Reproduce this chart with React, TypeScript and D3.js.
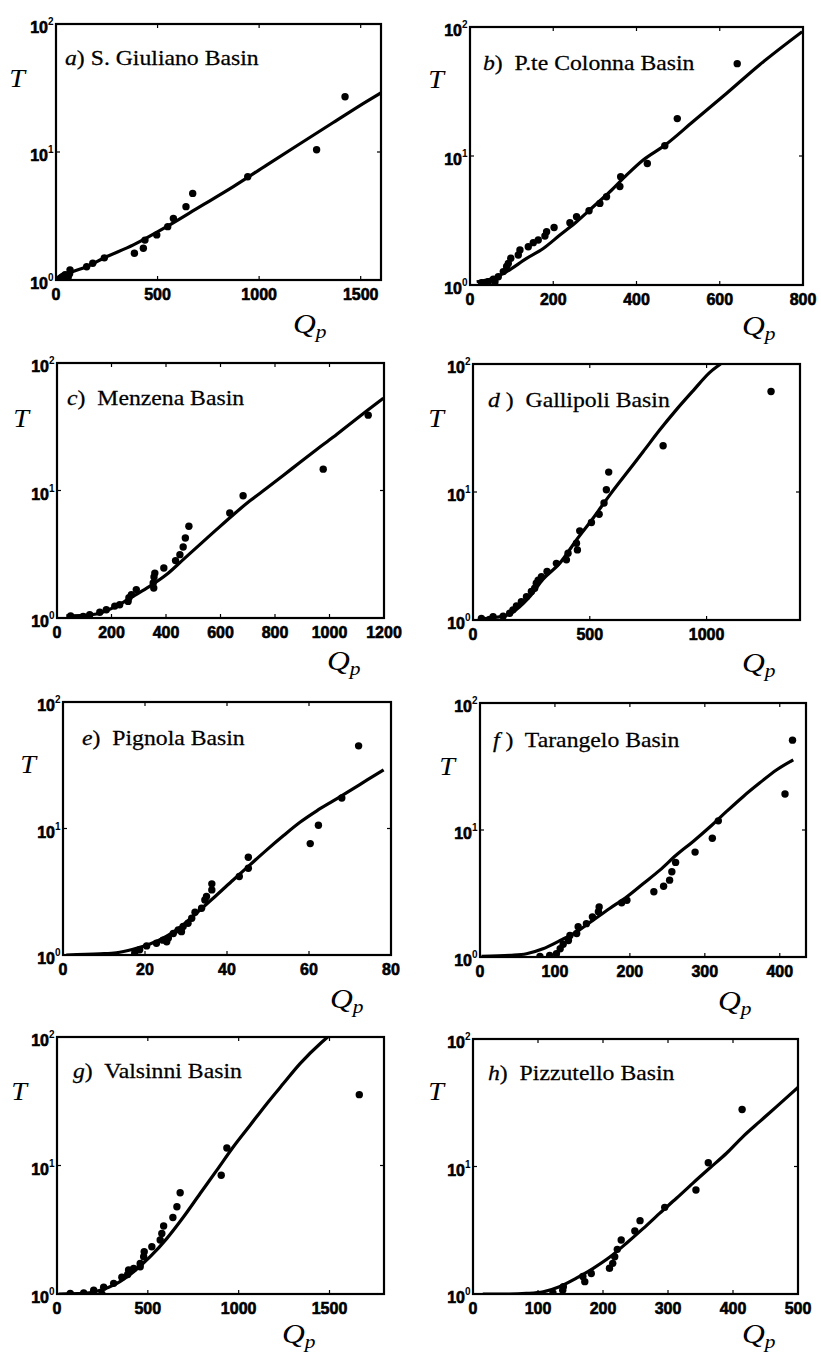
import React from "react";
import * as d3 from "d3";

// ---- data ----
const letters = ["a", "b", "c", "d", "e", "f", "g", "h"];
const basinNames = [
  "S. Giuliano Basin",
  "P.te Colonna Basin",
  "Menzena Basin",
  "Gallipoli Basin",
  "Pignola Basin",
  "Tarangelo Basin",
  "Valsinni Basin",
  "Pizzutello Basin",
];
const xMaxes = [1600, 800, 1200, 1400, 80, 435, 1800, 500];
const xTicks = [
  [0, 500, 1000, 1500],
  [0, 200, 400, 600, 800],
  [0, 200, 400, 600, 800, 1000, 1200],
  [0, 500, 1000],
  [0, 20, 40, 60, 80],
  [0, 100, 200, 300, 400],
  [0, 500, 1000, 1500],
  [0, 100, 200, 300, 400, 500],
];
const yTicks = [1, 10, 100];

// observed points [Qp, T]
const obsA = [
  [1423, 27], [1283, 10.4], [944, 6.4], [673, 4.75], [640, 3.74], [578, 3.03],
  [550, 2.61], [496, 2.25], [438, 2.05], [430, 1.77], [386, 1.62], [238, 1.49],
  [181, 1.35], [151, 1.27], [69, 1.2], [67, 1.12], [45, 1.1], [36, 1.07],
  [60, 1.05], [28, 1.05], [20, 1.03],
];
const obsB = [
  [642, 52], [498, 19.5], [468, 12], [426, 8.75], [362, 6.9], [360, 5.8],
  [328, 4.83], [312, 4.29], [286, 3.76], [256, 3.38], [240, 3.04], [202, 2.79],
  [184, 2.59], [180, 2.4], [164, 2.23], [152, 2.13], [140, 1.98], [120, 1.87],
  [116, 1.71], [98, 1.61], [92, 1.47], [88, 1.39], [80, 1.27], [68, 1.16],
  [56, 1.11], [60, 1.06], [44, 1.06], [28, 1.04], [42, 1.0],
];
const obsC = [
  [1142, 39], [977, 14.7], [683, 9.1], [634, 6.66], [484, 5.24], [471, 4.24],
  [463, 3.6], [451, 3.14], [435, 2.82], [392, 2.47], [359, 2.25], [356, 2.1],
  [353, 1.88], [355, 1.72], [291, 1.67], [273, 1.52], [264, 1.44], [261, 1.35],
  [230, 1.27], [212, 1.24], [181, 1.16], [157, 1.11], [120, 1.06], [96, 1.03],
  [50, 1.04],
];
const obsD = [
  [1276, 61], [814, 23], [581, 14.3], [571, 10.4], [561, 8.2], [540, 6.7],
  [507, 5.77], [457, 4.97], [443, 3.98], [447, 3.53], [407, 3.32], [400, 2.95],
  [357, 2.77], [317, 2.39], [293, 2.18], [279, 2.05], [271, 1.94], [264, 1.77],
  [250, 1.67], [229, 1.52], [207, 1.39], [186, 1.29], [171, 1.2], [157, 1.13],
  [129, 1.07], [86, 1.06], [71, 1.01], [36, 1.03],
];
const obsE = [
  [72.1, 45], [68, 17.4], [62.3, 10.6], [60.3, 7.6], [45.2, 5.93], [45.2, 4.85],
  [43, 4.17], [36.3, 3.65], [36.3, 3.27], [35, 2.9], [34.6, 2.72], [33.8, 2.34],
  [32.2, 2.18], [31.4, 1.95], [30.5, 1.78], [29.3, 1.68], [28.9, 1.53],
  [28.1, 1.58], [26.9, 1.48], [25.7, 1.36], [25.3, 1.27], [24.4, 1.31],
  [22.8, 1.24], [20.4, 1.18], [18.7, 1.1], [17.5, 1.04],
];
const obsF = [
  [417, 51], [407, 19.2], [318, 11.8], [310, 8.6], [287, 6.7], [261, 5.56],
  [256, 4.69], [253, 4.03], [245, 3.61], [232, 3.26], [196, 2.8], [189, 2.67],
  [159, 2.48], [158, 2.27], [150, 2.07], [142, 1.83], [131, 1.73], [129, 1.53],
  [120, 1.48], [118, 1.35], [111, 1.26], [107, 1.16], [102, 1.06], [93, 1.03],
  [80, 1.01],
];
const obsG = [
  [1664, 35.6], [935, 13.7], [904, 8.4], [678, 6.13], [660, 4.77], [638, 3.94],
  [587, 3.38], [577, 2.96], [568, 2.63], [522, 2.33], [480, 2.13], [477, 1.95],
  [458, 1.73], [458, 1.63], [422, 1.58], [394, 1.54], [389, 1.42], [357, 1.35],
  [312, 1.21], [257, 1.13], [247, 1.0], [202, 1.07], [147, 1.02], [73, 1.01],
];
const obsH = [
  [414, 28], [362, 10.7], [343, 6.54], [295, 4.78], [257, 3.76], [249, 3.12],
  [228, 2.65], [222, 2.24], [218, 1.96], [215, 1.74], [210, 1.59], [182, 1.45],
  [169, 1.37], [172, 1.25], [139, 1.14], [138, 1.07], [123, 1.02],
];

// fitted curves [Qp, T]
const fitA = [
  [3, 1.0], [69, 1.14], [151, 1.27], [233, 1.48], [381, 1.88], [545, 2.61],
  [709, 3.74], [873, 5.36], [1037, 7.9], [1201, 11.6], [1365, 17.0],
  [1530, 24.9], [1600, 29],
];
const fitB = [
  [16, 1.06], [56, 1.13], [88, 1.27], [136, 1.61], [176, 1.92], [216, 2.44],
  [256, 3.09], [296, 4.04], [336, 5.28], [376, 7.1], [416, 9.3], [468, 12.1],
  [536, 18.5], [616, 30.5], [696, 51], [798, 92],
];
const fitC = [
  [34, 1.04], [96, 1.05], [157, 1.09], [218, 1.24], [279, 1.48], [340, 1.77],
  [402, 2.19], [463, 2.87], [524, 3.76], [585, 4.93], [647, 6.46], [708, 8.3],
  [769, 10.4], [830, 13.1], [891, 16.6], [953, 21], [1014, 26.3],
  [1075, 33.3], [1136, 42], [1198, 53],
];
const fitD = [
  [29, 1.02], [100, 1.05], [157, 1.11], [200, 1.27], [243, 1.52], [300, 2.08],
  [371, 2.77], [443, 4.22], [514, 6.24], [586, 9.5], [657, 14], [729, 20.7],
  [800, 30.6], [871, 44], [943, 62], [1014, 86], [1060, 100],
];
const fitE = [
  [0.8, 1.0], [9, 1.02], [13, 1.04], [17.1, 1.11], [21.2, 1.22], [25.3, 1.41],
  [29.3, 1.73], [33.4, 2.27], [37.5, 2.98], [41.5, 3.92], [45.6, 5.16],
  [49.7, 6.78], [53.8, 8.8], [57.8, 11.2], [61.9, 13.8], [66, 16.6],
  [70.1, 20], [74.1, 24.1], [78.2, 29.1],
];
const fitF = [
  [2, 1.01], [40, 1.03], [62, 1.06], [84, 1.16], [107, 1.35], [129, 1.58],
  [151, 1.95], [173, 2.41], [196, 2.98], [218, 3.79], [240, 4.83], [262, 6.35],
  [284, 8.09], [307, 10.6], [329, 14], [351, 18.3], [373, 23.4], [396, 29.8],
  [418, 35.7],
];
const fitG = [
  [9, 1.0], [147, 1.01], [238, 1.07], [330, 1.21], [422, 1.49], [513, 1.95],
  [605, 2.71], [697, 3.99], [788, 6.06], [880, 9.2], [971, 14], [1063, 20.6],
  [1155, 30.3], [1246, 43.4], [1338, 62], [1457, 91], [1490, 100],
];
const fitH = [
  [15, 1.0], [56, 1.0], [82, 1.01], [108, 1.04], [133, 1.14], [159, 1.33],
  [185, 1.59], [210, 1.94], [236, 2.5], [262, 3.27], [287, 4.29], [313, 5.63],
  [338, 7.38], [364, 9.7], [390, 12.7], [415, 17.1], [441, 22.5], [467, 29.5],
  [500, 41.8],
];
const observed = [obsA, obsB, obsC, obsD, obsE, obsF, obsG, obsH];
const fitted = [fitA, fitB, fitC, fitD, fitE, fitF, fitG, fitH];

// ---- layout (page pixels) ----
// box: [left, top, right, bottom]; title/T/Q offsets relative to the box
const layout = [
  { box: [56, 24, 381, 280], title: [9, 41], sep: ") ", T: [-39, 63], Q: [-88, 53] },
  { box: [470, 27, 803, 285], title: [13, 43], sep: ")  ", T: [-34, 61], Q: [-61, 50] },
  { box: [57, 363, 384, 618], title: [10, 42], sep: ")  ", T: [-36, 64], Q: [-57, 52] },
  { box: [473, 364, 800, 620], title: [15, 43], sep: " )  ", T: [-37, 63], Q: [-58, 52] },
  { box: [63, 702, 391, 955], title: [19, 43], sep: ")  ", T: [-35, 71], Q: [-61, 53] },
  { box: [480, 703, 806, 957], title: [13, 44], sep: " )  ", T: [-33, 72], Q: [-88, 53] },
  { box: [57, 1037, 384, 1294], title: [16, 41], sep: ")  ", T: [-38, 63], Q: [-102, 49] },
  { box: [473, 1039, 798, 1294], title: [15, 41], sep: ")  ", T: [-37, 61], Q: [-56, 49] },
];

const SERIF = "Liberation Serif, Times New Roman, Times, serif";
const SANS = "Liberation Sans, Arial, Helvetica, sans-serif";
const serifStyle = { fontFamily: SERIF };
const sansBold = { fontFamily: SANS, fontWeight: 700 };
const WIDE = 1.13; // scanned serif lettering is a bit wider than Times

function Panel({ i }: { i: number }) {
  const L = layout[i];
  const [x0, y0, x1, y1] = L.box;
  const x = d3.scaleLinear().domain([0, xMaxes[i]]).range([x0, x1]);
  const y = d3.scaleLog().domain([1, 100]).range([y1, y0]);
  const line = d3
    .line<number[]>()
    .x((d) => x(d[0]))
    .y((d) => y(d[1]))
    .curve(d3.curveMonotoneX);
  const clipId = `clip-${i}`;
  const tk = 4;
  return (
    <g>
      <defs>
        <clipPath id={clipId}>
          <rect x={x0} y={y0} width={x1 - x0} height={y1 - y0} />
        </clipPath>
      </defs>
      <g clipPath={`url(#${clipId})`}>
        <path d={line(fitted[i]) || ""} fill="none" stroke="#000" strokeWidth={3.2} strokeLinejoin="round" />
        {observed[i].map((d, k) => (
          <circle key={k} cx={x(d[0])} cy={y(d[1])} r={3.7} fill="#000" />
        ))}
      </g>
      <rect x={x0} y={y0} width={x1 - x0} height={y1 - y0} fill="none" stroke="#000" strokeWidth={2.2} />
      {xTicks[i].map((v) => (
        <g key={`x${v}`}>
          <line x1={x(v)} x2={x(v)} y1={y1} y2={y1 - tk} stroke="#000" strokeWidth={1.2} />
          <line x1={x(v)} x2={x(v)} y1={y0} y2={y0 + tk} stroke="#000" strokeWidth={1.2} />
          <text x={x(v)} y={y1 + 20} textAnchor="middle" style={sansBold} fontSize={16} stroke="#000" strokeWidth={0.6}>
            {v}
          </text>
        </g>
      ))}
      {yTicks.map((v, k) => (
        <g key={`y${v}`}>
          <line x1={x0} x2={x0 + tk} y1={y(v)} y2={y(v)} stroke="#000" strokeWidth={1.2} />
          <line x1={x1} x2={x1 - tk} y1={y(v)} y2={y(v)} stroke="#000" strokeWidth={1.2} />
          <text x={x0 - 8} y={y(v) + 9} textAnchor="end" style={sansBold} fontSize={16} stroke="#000" strokeWidth={0.6}>
            10
          </text>
          <text x={x0 - 8} y={y(v) + 1} textAnchor="start" style={sansBold} fontSize={10}>
            {k}
          </text>
        </g>
      ))}
      <text
        transform={`translate(${x0 + L.title[0]},${y0 + L.title[1]}) scale(${WIDE},1)`}
        fontSize={21}
        stroke="#000"
        strokeWidth={0.25}
        style={{ ...serifStyle, whiteSpace: "pre" }}
      >
        <tspan fontStyle="italic">{letters[i]}</tspan>
        {L.sep + basinNames[i]}
      </text>
      <text
        transform={`translate(${x0 + L.T[0]},${y0 + L.T[1]}) scale(${WIDE},1)`}
        textAnchor="middle"
        style={serifStyle}
        fontStyle="italic"
        fontSize={25}
      >
        T
      </text>
      <text
        transform={`translate(${x1 + L.Q[0]},${y1 + L.Q[1]}) scale(${WIDE},1)`}
        style={serifStyle}
        fontStyle="italic"
        fontSize={28}
      >
        Q
        <tspan fontSize={19} dy={5}>
          p
        </tspan>
      </text>
    </g>
  );
}

export default function App() {
  return (
    <svg
      width={821}
      height={1355}
      viewBox="0 0 821 1355"
      style={{ position: "absolute", left: 0, top: 0, background: "#fff" }}
    >
      <rect width={821} height={1355} fill="#fff" />
      {letters.map((_, i) => (
        <Panel key={i} i={i} />
      ))}
    </svg>
  );
}
